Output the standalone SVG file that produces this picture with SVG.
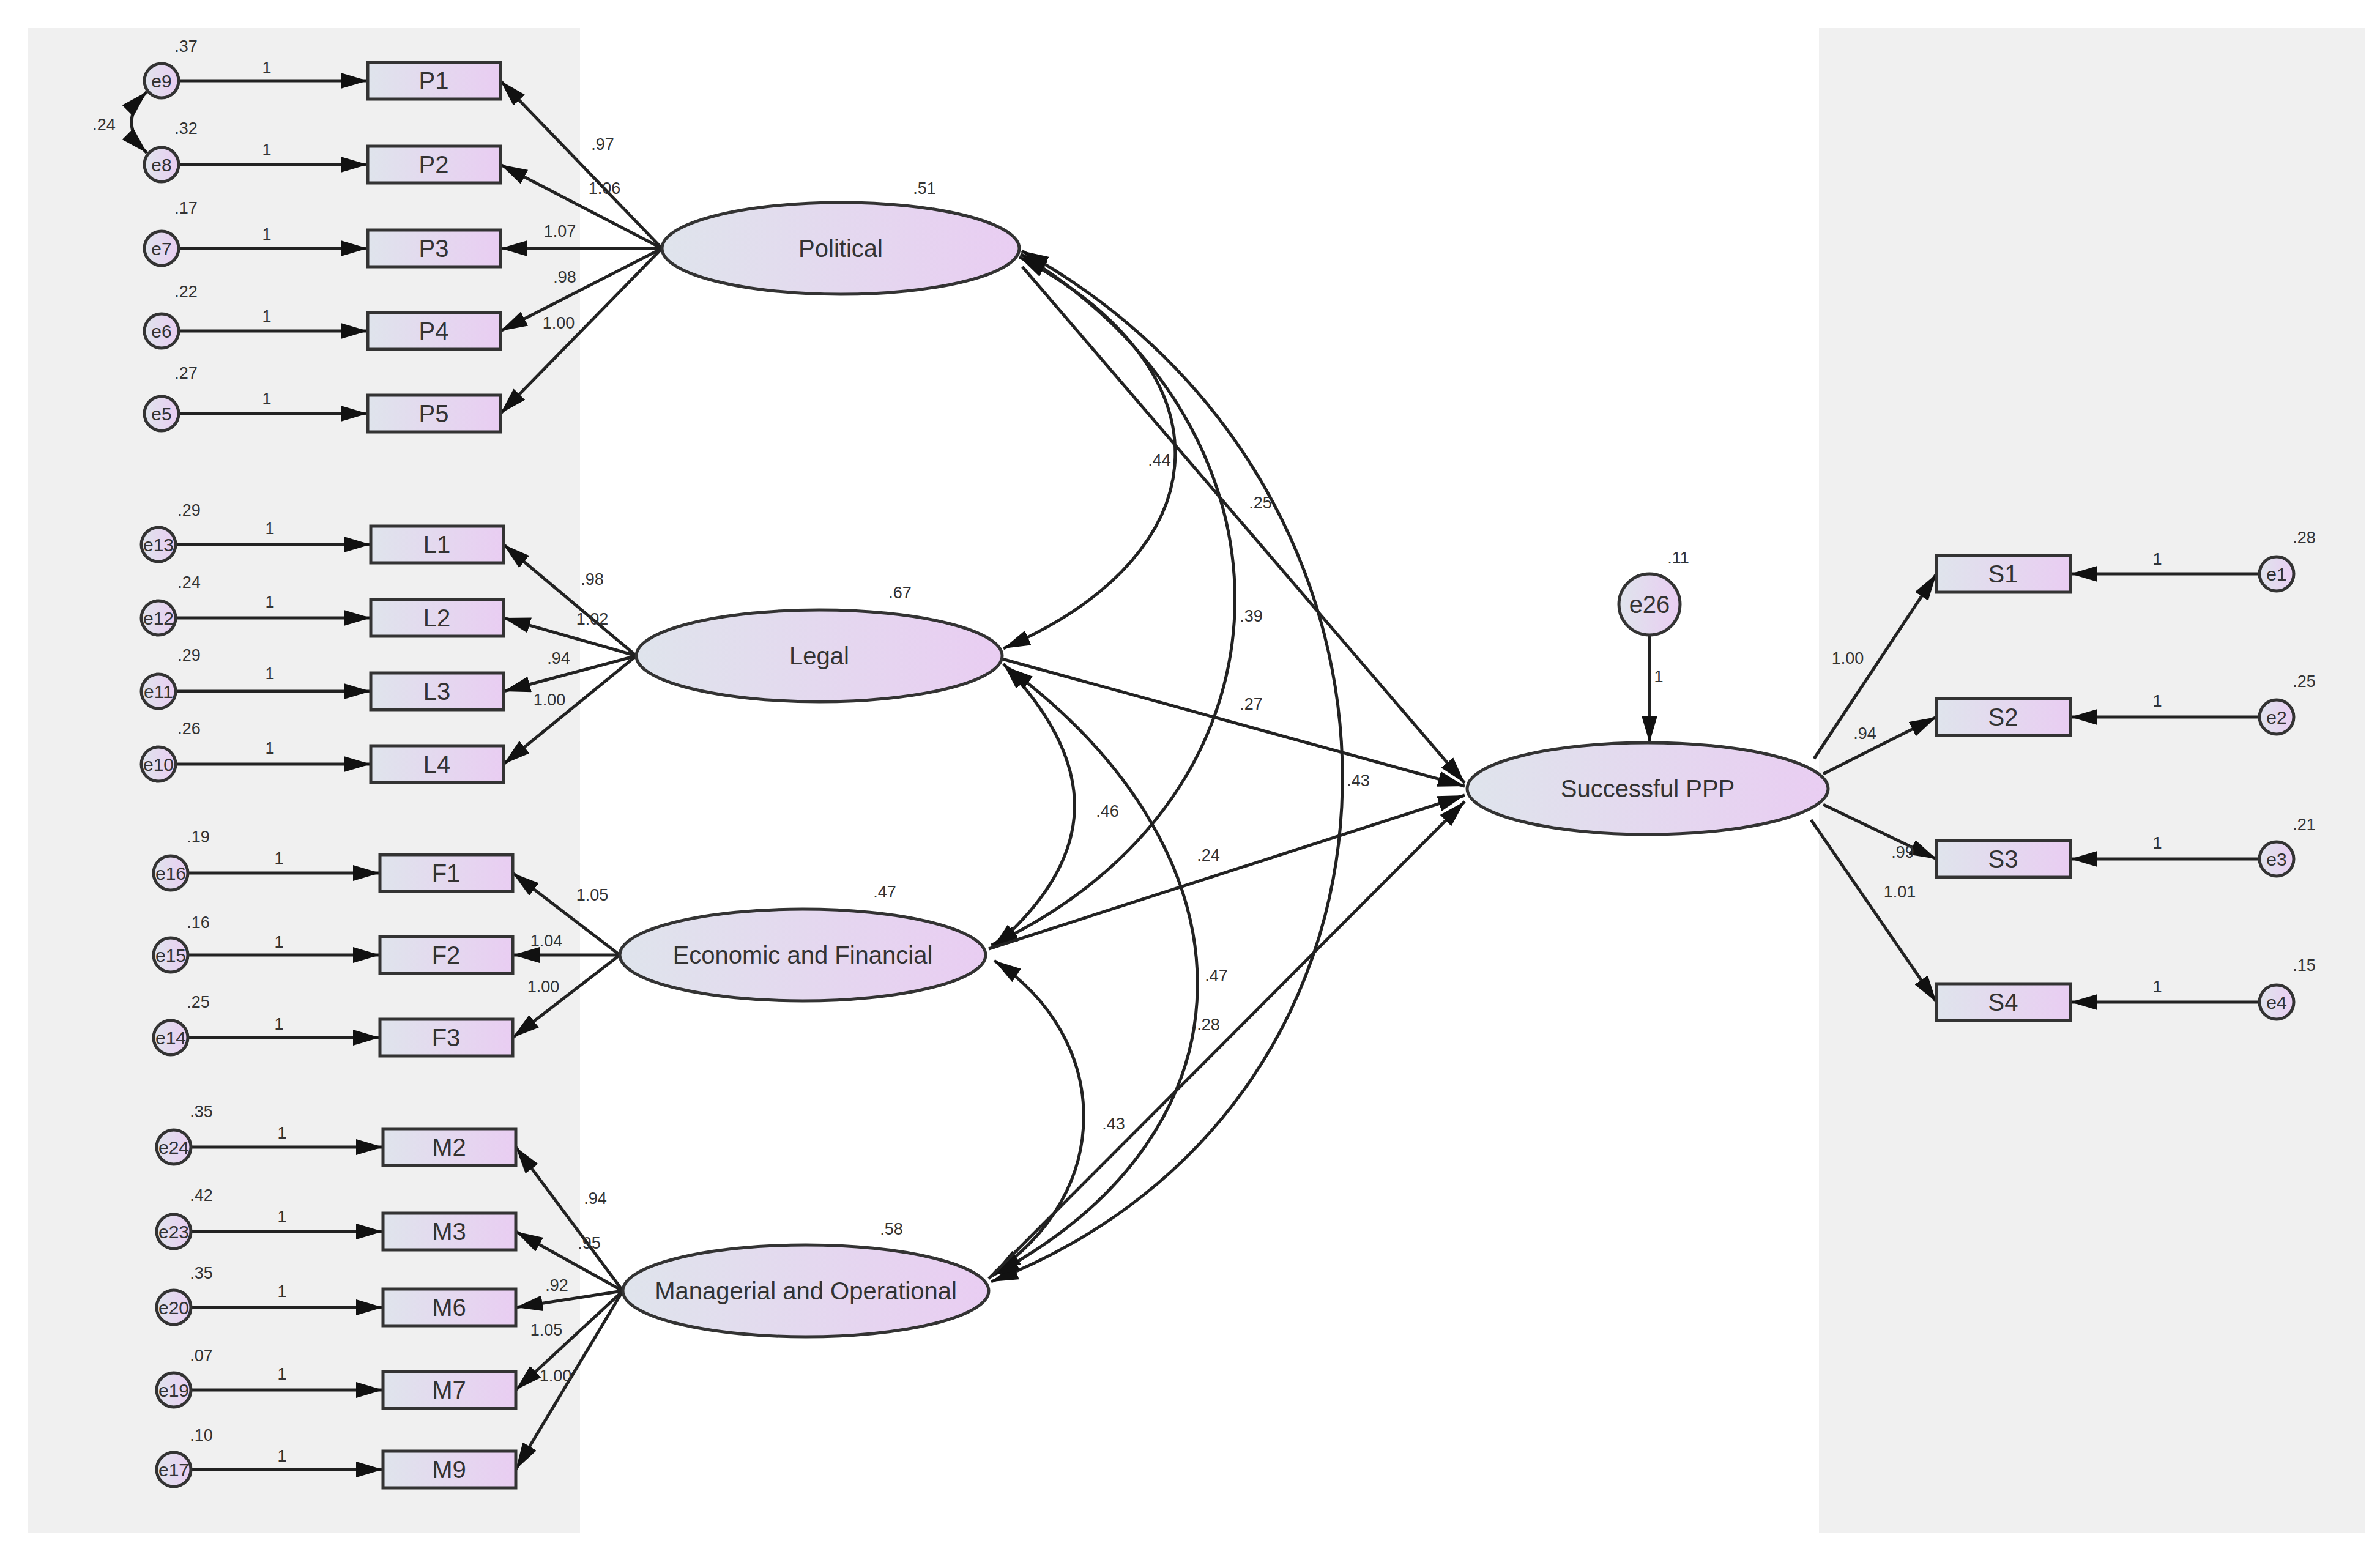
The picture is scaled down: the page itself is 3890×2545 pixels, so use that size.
<svg xmlns="http://www.w3.org/2000/svg" width="3890" height="2545" viewBox="0 0 3890 2545">
<defs>
<linearGradient id="g" x1="0" y1="0" x2="1" y2="0"><stop offset="0" stop-color="#dfe4ec"/><stop offset="1" stop-color="#e9cdf2"/></linearGradient>
<marker id="a" viewBox="0 0 10 10" refX="10" refY="5" markerWidth="44" markerHeight="26" markerUnits="userSpaceOnUse" orient="auto-start-reverse" preserveAspectRatio="none"><path d="M0,0 L10,5 L0,10 z" fill="#111"/></marker>
<style>
.n{fill:url(#g);stroke:#333;stroke-width:5}
.c{stroke:#222;stroke-width:5;fill:none;marker-end:url(#a)}
.d{stroke:#222;stroke-width:5;fill:none;marker-start:url(#a);marker-end:url(#a)}
text{font-family:"Liberation Sans",Arial,sans-serif;fill:#333}
.b{font-size:40px;text-anchor:middle;dominant-baseline:central}
.s{font-size:27px;text-anchor:middle}
.e{font-size:30px;text-anchor:middle;dominant-baseline:central}
</style>
</defs>
<rect x="45" y="45" width="903" height="2461" fill="#f0f0f0"/>
<rect x="2973" y="45" width="893" height="2461" fill="#f0f0f0"/>
<g id="connectors">
<path class="c" d="M292,132 H601"/><path class="c" d="M292,269 H601"/><path class="c" d="M292,406 H601"/><path class="c" d="M292,541 H601"/><path class="c" d="M292,676 H601"/>
<path class="d" d="M240,150 Q190,200 240,250"/>
<path class="c" d="M1082,406 L818,132"/><path class="c" d="M1082,406 L818,269"/><path class="c" d="M1082,406 L818,406"/><path class="c" d="M1082,406 L818,541"/><path class="c" d="M1082,406 L818,676"/>
<path class="c" d="M287,890 H606"/><path class="c" d="M287,1010 H606"/><path class="c" d="M287,1130 H606"/><path class="c" d="M287,1249 H606"/>
<path class="c" d="M1040,1072 L823,890"/><path class="c" d="M1040,1072 L823,1010"/><path class="c" d="M1040,1072 L823,1130"/><path class="c" d="M1040,1072 L823,1249"/>
<path class="c" d="M307,1427 H621"/><path class="c" d="M307,1561 H621"/><path class="c" d="M307,1696 H621"/>
<path class="c" d="M1013,1561 L838,1427"/><path class="c" d="M1013,1561 L838,1561"/><path class="c" d="M1013,1561 L838,1696"/>
<path class="c" d="M312,1875 H626"/><path class="c" d="M312,2013 H626"/><path class="c" d="M312,2137 H626"/><path class="c" d="M312,2272 H626"/><path class="c" d="M312,2402 H626"/>
<path class="c" d="M1018,2110 L843,1875"/><path class="c" d="M1018,2110 L843,2013"/><path class="c" d="M1018,2110 L843,2137"/><path class="c" d="M1018,2110 L843,2272"/><path class="c" d="M1018,2110 L843,2402"/>
<path class="d" d="M1666,420 C2010,600 2010,900 1640,1060"/>
<path class="d" d="M1668,415 C2143,700 2143,1300 1620,1545"/>
<path class="d" d="M1670,410 C2377,800 2377,1800 1620,2095"/>
<path class="d" d="M1640,1085 C1798,1250 1798,1400 1622,1550"/>
<path class="d" d="M1645,1090 C2065,1400 2065,1850 1622,2085"/>
<path class="d" d="M1625,1570 C1820,1700 1820,1950 1625,2080"/>
<path class="c" d="M1671,436 L2394,1280"/><path class="c" d="M1638,1077 L2394,1285"/><path class="c" d="M1616,1551 L2394,1300"/><path class="c" d="M1616,2090 L2394,1310"/>
<path class="c" d="M2696,1038 V1214"/>
<path class="c" d="M2965,1240 L3165,938"/><path class="c" d="M2980,1265 L3165,1172"/><path class="c" d="M2980,1315 L3165,1404"/><path class="c" d="M2960,1340 L3165,1638"/>
<path class="c" d="M3693,938 H3384"/><path class="c" d="M3693,1172 H3384"/><path class="c" d="M3693,1404 H3384"/><path class="c" d="M3693,1638 H3384"/>
</g>
<g id="errors">
<g id="e9"><circle class="n" cx="264" cy="132" r="28"/><text class="e" x="264" y="132">e9</text></g>
<g id="e8"><circle class="n" cx="264" cy="269" r="28"/><text class="e" x="264" y="269">e8</text></g>
<g id="e7"><circle class="n" cx="264" cy="406" r="28"/><text class="e" x="264" y="406">e7</text></g>
<g id="e6"><circle class="n" cx="264" cy="541" r="28"/><text class="e" x="264" y="541">e6</text></g>
<g id="e5"><circle class="n" cx="264" cy="676" r="28"/><text class="e" x="264" y="676">e5</text></g>
<g id="e13"><circle class="n" cx="259" cy="890" r="28"/><text class="e" x="259" y="890">e13</text></g>
<g id="e12"><circle class="n" cx="259" cy="1010" r="28"/><text class="e" x="259" y="1010">e12</text></g>
<g id="e11"><circle class="n" cx="259" cy="1130" r="28"/><text class="e" x="259" y="1130">e11</text></g>
<g id="e10"><circle class="n" cx="259" cy="1249" r="28"/><text class="e" x="259" y="1249">e10</text></g>
<g id="e16"><circle class="n" cx="279" cy="1427" r="28"/><text class="e" x="279" y="1427">e16</text></g>
<g id="e15"><circle class="n" cx="279" cy="1561" r="28"/><text class="e" x="279" y="1561">e15</text></g>
<g id="e14"><circle class="n" cx="279" cy="1696" r="28"/><text class="e" x="279" y="1696">e14</text></g>
<g id="e24"><circle class="n" cx="284" cy="1875" r="28"/><text class="e" x="284" y="1875">e24</text></g>
<g id="e23"><circle class="n" cx="284" cy="2013" r="28"/><text class="e" x="284" y="2013">e23</text></g>
<g id="e20"><circle class="n" cx="284" cy="2137" r="28"/><text class="e" x="284" y="2137">e20</text></g>
<g id="e19"><circle class="n" cx="284" cy="2272" r="28"/><text class="e" x="284" y="2272">e19</text></g>
<g id="e17"><circle class="n" cx="284" cy="2402" r="28"/><text class="e" x="284" y="2402">e17</text></g>
<g id="e26"><circle class="n" cx="2696" cy="988" r="50"/><text class="b" x="2696" y="988">e26</text></g>
<g id="e1"><circle class="n" cx="3721" cy="938" r="28"/><text class="e" x="3721" y="938">e1</text></g>
<g id="e2"><circle class="n" cx="3721" cy="1172" r="28"/><text class="e" x="3721" y="1172">e2</text></g>
<g id="e3"><circle class="n" cx="3721" cy="1404" r="28"/><text class="e" x="3721" y="1404">e3</text></g>
<g id="e4"><circle class="n" cx="3721" cy="1638" r="28"/><text class="e" x="3721" y="1638">e4</text></g>
</g>
<g id="indicators">
<g id="P1"><rect class="n" x="601" y="102" width="217" height="60"/><text class="b" x="709" y="132">P1</text></g>
<g id="P2"><rect class="n" x="601" y="239" width="217" height="60"/><text class="b" x="709" y="269">P2</text></g>
<g id="P3"><rect class="n" x="601" y="376" width="217" height="60"/><text class="b" x="709" y="406">P3</text></g>
<g id="P4"><rect class="n" x="601" y="511" width="217" height="60"/><text class="b" x="709" y="541">P4</text></g>
<g id="P5"><rect class="n" x="601" y="646" width="217" height="60"/><text class="b" x="709" y="676">P5</text></g>
<g id="L1"><rect class="n" x="606" y="860" width="217" height="60"/><text class="b" x="714" y="890">L1</text></g>
<g id="L2"><rect class="n" x="606" y="980" width="217" height="60"/><text class="b" x="714" y="1010">L2</text></g>
<g id="L3"><rect class="n" x="606" y="1100" width="217" height="60"/><text class="b" x="714" y="1130">L3</text></g>
<g id="L4"><rect class="n" x="606" y="1219" width="217" height="60"/><text class="b" x="714" y="1249">L4</text></g>
<g id="F1"><rect class="n" x="621" y="1397" width="217" height="60"/><text class="b" x="729" y="1427">F1</text></g>
<g id="F2"><rect class="n" x="621" y="1531" width="217" height="60"/><text class="b" x="729" y="1561">F2</text></g>
<g id="F3"><rect class="n" x="621" y="1666" width="217" height="60"/><text class="b" x="729" y="1696">F3</text></g>
<g id="M2"><rect class="n" x="626" y="1845" width="217" height="60"/><text class="b" x="734" y="1875">M2</text></g>
<g id="M3"><rect class="n" x="626" y="1983" width="217" height="60"/><text class="b" x="734" y="2013">M3</text></g>
<g id="M6"><rect class="n" x="626" y="2107" width="217" height="60"/><text class="b" x="734" y="2137">M6</text></g>
<g id="M7"><rect class="n" x="626" y="2242" width="217" height="60"/><text class="b" x="734" y="2272">M7</text></g>
<g id="M9"><rect class="n" x="626" y="2372" width="217" height="60"/><text class="b" x="734" y="2402">M9</text></g>
<g id="S1"><rect class="n" x="3165" y="908" width="219" height="60"/><text class="b" x="3274" y="938">S1</text></g>
<g id="S2"><rect class="n" x="3165" y="1142" width="219" height="60"/><text class="b" x="3274" y="1172">S2</text></g>
<g id="S3"><rect class="n" x="3165" y="1374" width="219" height="60"/><text class="b" x="3274" y="1404">S3</text></g>
<g id="S4"><rect class="n" x="3165" y="1608" width="219" height="60"/><text class="b" x="3274" y="1638">S4</text></g>
</g>
<g id="latents">
<g id="Political"><ellipse class="n" cx="1374" cy="406" rx="292" ry="75"/><text class="b" x="1374" y="406">Political</text></g>
<g id="Legal"><ellipse class="n" cx="1339" cy="1072" rx="299" ry="75"/><text class="b" x="1339" y="1072">Legal</text></g>
<g id="Economic"><ellipse class="n" cx="1312" cy="1561" rx="299" ry="75"/><text class="b" x="1312" y="1561">Economic and Financial</text></g>
<g id="Managerial"><ellipse class="n" cx="1317" cy="2110" rx="299" ry="75"/><text class="b" x="1317" y="2110">Managerial and Operational</text></g>
<g id="SPPP"><ellipse class="n" cx="2693" cy="1289" rx="295" ry="75"/><text class="b" x="2693" y="1289">Successful PPP</text></g>
</g>
<g id="labels" class="s">
<text class="s" x="304" y="85">.37</text><text class="s" x="304" y="219">.32</text><text class="s" x="304" y="349">.17</text><text class="s" x="304" y="486">.22</text><text class="s" x="304" y="619">.27</text>
<text class="s" x="436" y="120">1</text><text class="s" x="436" y="254">1</text><text class="s" x="436" y="392">1</text><text class="s" x="436" y="526">1</text><text class="s" x="436" y="661">1</text>
<text class="s" x="985" y="245">.97</text><text class="s" x="988" y="317">1.06</text><text class="s" x="915" y="387">1.07</text><text class="s" x="923" y="462">.98</text><text class="s" x="913" y="537">1.00</text><text class="s" x="170" y="213">.24</text>
<text class="s" x="309" y="843">.29</text><text class="s" x="309" y="961">.24</text><text class="s" x="309" y="1080">.29</text><text class="s" x="309" y="1200">.26</text>
<text class="s" x="441" y="873">1</text><text class="s" x="441" y="993">1</text><text class="s" x="441" y="1110">1</text><text class="s" x="441" y="1232">1</text>
<text class="s" x="968" y="956">.98</text><text class="s" x="968" y="1021">1.02</text><text class="s" x="913" y="1085">.94</text><text class="s" x="898" y="1153">1.00</text>
<text class="s" x="324" y="1377">.19</text><text class="s" x="324" y="1517">.16</text><text class="s" x="324" y="1647">.25</text>
<text class="s" x="456" y="1412">1</text><text class="s" x="456" y="1549">1</text><text class="s" x="456" y="1683">1</text>
<text class="s" x="968" y="1472">1.05</text><text class="s" x="893" y="1547">1.04</text><text class="s" x="888" y="1622">1.00</text>
<text class="s" x="329" y="1826">.35</text><text class="s" x="329" y="1963">.42</text><text class="s" x="329" y="2090">.35</text><text class="s" x="329" y="2225">.07</text><text class="s" x="329" y="2355">.10</text>
<text class="s" x="461" y="1861">1</text><text class="s" x="461" y="1998">1</text><text class="s" x="461" y="2120">1</text><text class="s" x="461" y="2255">1</text><text class="s" x="461" y="2389">1</text>
<text class="s" x="973" y="1968">.94</text><text class="s" x="963" y="2041">.95</text><text class="s" x="910" y="2110">.92</text><text class="s" x="893" y="2183">1.05</text><text class="s" x="908" y="2258">1.00</text>
<text class="s" x="1511" y="317">.51</text><text class="s" x="1471" y="978">.67</text><text class="s" x="1446" y="1467">.47</text><text class="s" x="1457" y="2018">.58</text><text class="s" x="2743" y="921">.11</text>
<text class="s" x="1895" y="761">.44</text><text class="s" x="2045" y="1016">.39</text><text class="s" x="2220" y="1285">.43</text><text class="s" x="1810" y="1335">.46</text><text class="s" x="1988" y="1604">.47</text><text class="s" x="1820" y="1846">.43</text>
<text class="s" x="2060" y="831">.25</text><text class="s" x="2045" y="1160">.27</text><text class="s" x="1975" y="1407">.24</text><text class="s" x="1975" y="1684">.28</text>
<text class="s" x="2711" y="1115">1</text>
<text class="s" x="3020" y="1085">1.00</text><text class="s" x="3048" y="1208">.94</text><text class="s" x="3110" y="1402">.99</text><text class="s" x="3105" y="1467">1.01</text>
<text class="s" x="3526" y="923">1</text><text class="s" x="3526" y="1155">1</text><text class="s" x="3526" y="1387">1</text><text class="s" x="3526" y="1622">1</text>
<text class="s" x="3766" y="888">.28</text><text class="s" x="3766" y="1123">.25</text><text class="s" x="3766" y="1357">.21</text><text class="s" x="3766" y="1587">.15</text>
</g>
</svg>
